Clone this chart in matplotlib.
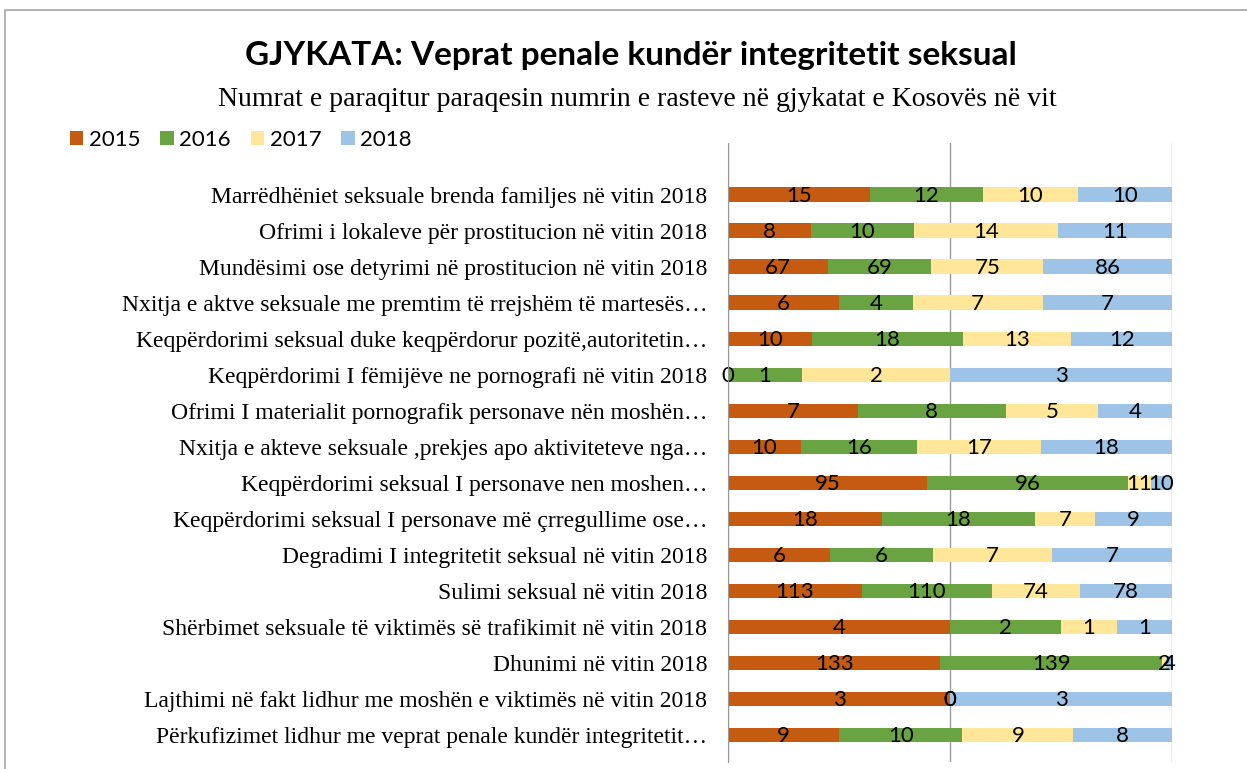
import matplotlib
matplotlib.use("Agg")
import matplotlib.pyplot as plt
from matplotlib.patches import Rectangle, Patch
import numpy as np

categories = [
    "Marrëdhëniet seksuale brenda familjes në vitin 2018",
    "Ofrimi i lokaleve për prostitucion në vitin 2018",
    "Mundësimi ose detyrimi në prostitucion në vitin 2018",
    "Nxitja e aktve seksuale me premtim të rrejshëm të martesës…",
    "Keqpërdorimi seksual duke keqpërdorur pozitë,autoritetin…",
    "Keqpërdorimi I fëmijëve ne pornografi në vitin 2018",
    "Ofrimi I materialit pornografik personave nën moshën…",
    "Nxitja e akteve seksuale ,prekjes apo aktiviteteve nga…",
    "Keqpërdorimi seksual I personave nen moshen…",
    "Keqpërdorimi seksual I personave më çrregullime ose…",
    "Degradimi I integritetit seksual në vitin 2018",
    "Sulimi seksual në vitin 2018",
    "Shërbimet seksuale të viktimës së trafikimit në vitin 2018",
    "Dhunimi në vitin 2018",
    "Lajthimi në fakt lidhur me moshën e viktimës në vitin 2018",
    "Përkufizimet lidhur me veprat penale kundër integritetit…",
]
years = ["2015", "2016", "2017", "2018"]
v2015 = [15, 8, 67, 6, 10, 0, 7, 10, 95, 18, 6, 113, 4, 133, 3, 9]
v2016 = [12, 10, 69, 4, 18, 1, 8, 16, 96, 18, 6, 110, 2, 139, 0, 10]
v2017 = [10, 14, 75, 7, 13, 2, 5, 17, 11, 7, 7, 74, 1, 2, 0, 9]
v2018 = [10, 11, 86, 7, 12, 3, 4, 18, 10, 9, 7, 78, 1, 4, 3, 8]
colors = ["#C55A11", "#6AA342", "#FFE699", "#9DC3E6"]

series = np.array([v2015, v2016, v2017, v2018], dtype=float)
totals = series.sum(axis=0)
shares = series / totals

W, H = 1247, 769
fig = plt.figure(figsize=(W / 100, H / 100), dpi=100)
ax = fig.add_axes([728 / W, 1 - 762 / H, (1172 - 728) / W, (762 - 143) / H])

y = np.arange(len(categories))
left = np.zeros(len(categories))
for i, yr in enumerate(years):
    ax.barh(y, shares[i], left=left, height=0.41, color=colors[i], label=yr, zorder=2)
    for j in range(len(categories)):
        ax.text(left[j] + shares[i][j] / 2, y[j] + 0.02, f"{int(series[i][j])}",
                ha="center", va="center", fontsize=16, family="Lato", color="black", zorder=3)
    left += shares[i]

ax.set_xlim(0, 1)
ax.set_ylim(len(categories) - 1 + 0.75, -1.44)
ax.set_xticks([0, 0.5, 1])
ax.tick_params(axis="x", length=0, labelbottom=False)
ax.tick_params(axis="y", length=0, pad=15)
ax.set_yticks(y)
ax.set_yticklabels(categories, family="Liberation Serif", fontsize=17)
ax.grid(axis="x", color="#999999", linewidth=1, zorder=0)
for s in ["top", "right", "bottom"]:
    ax.spines[s].set_visible(False)
ax.spines["left"].set_color("#999999")
ax.spines["left"].set_zorder(4)

fig.text(631 / W, 1 - 56 / H, "GJYKATA: Veprat penale kundër integritetit seksual",
         ha="center", va="center", fontsize=24, fontweight="bold", family="Lato")
fig.text(637 / W, 1 - 100 / H, "Numrat e paraqitur paraqesin numrin e rasteve në gjykatat e Kosovës në vit",
         ha="center", va="center", fontsize=20, family="Liberation Serif")

handles = [Patch(facecolor=c, label=yr) for c, yr in zip(colors, years)]
fig.legend(handles=handles, loc="center left", bbox_to_anchor=(70 / W, 1 - 140 / H), ncol=4,
           frameon=False, prop={"family": "Lato", "size": 16}, handlelength=0.6, handleheight=0.6,
           handletextpad=0.25, columnspacing=0.9, borderaxespad=0, borderpad=0)

fig.add_artist(Rectangle((5 / W, -0.1), 1.2, 1 - 10 / H + 0.1, transform=fig.transFigure,
                         fill=False, edgecolor="#A6A6A6", linewidth=1.2))

fig.savefig("out.png", dpi=100, facecolor="white")
